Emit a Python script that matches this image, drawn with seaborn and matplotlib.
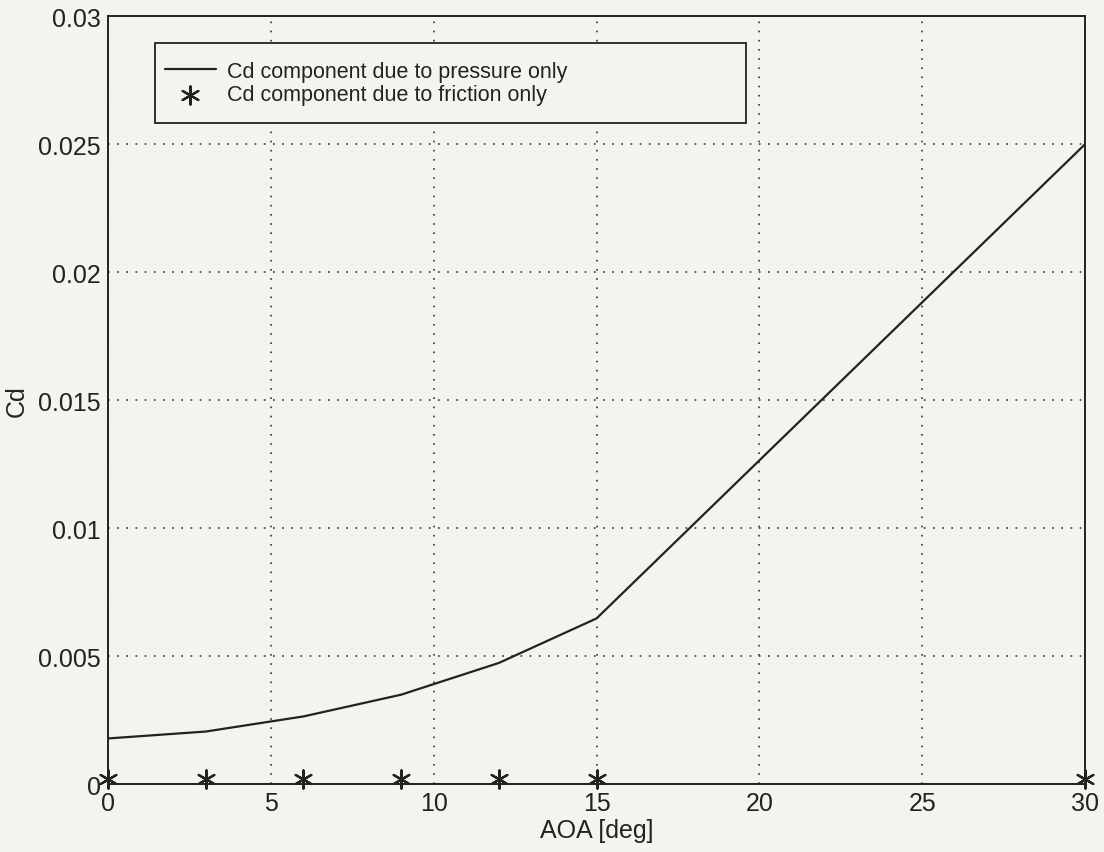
import matplotlib
matplotlib.use("Agg")
import matplotlib.pyplot as plt
from matplotlib.patches import Rectangle
import seaborn as sns
import pandas as pd

aoa = [0, 3, 6, 9, 12, 15, 30]
cd_pressure = [0.00178, 0.00205, 0.00264, 0.00349, 0.00473, 0.00647, 0.025]
cd_friction = [0.0002, 0.0002, 0.0002, 0.0002, 0.0002, 0.0002, 0.0002]
xticks = [0, 5, 10, 15, 20, 25, 30]
yticks = [0, 0.005, 0.01, 0.015, 0.02, 0.025, 0.03]
ytick_labels = ["0", "0.005", "0.01", "0.015", "0.02", "0.025", "0.03"]

sns.set_style("white")
plt.rcParams['font.family'] = ['Liberation Sans', 'DejaVu Sans']

df = pd.DataFrame({"aoa": aoa, "pressure": cd_pressure, "friction": cd_friction})

bg = "#f4f4ef"
ink = "#222222"
fig = plt.figure(figsize=(11.04, 8.53), dpi=100, facecolor=bg)
ax = fig.add_axes([0.0978, 0.0797, 0.8852, 0.9003])
ax.set_facecolor(bg)

sns.lineplot(data=df, x="aoa", y="pressure", ax=ax, color=ink, linewidth=1.6,
             label="Cd component due to pressure only")
sns.scatterplot(data=df, x="aoa", y="friction", ax=ax, color=ink, marker=(6, 2, 0),
                s=170, linewidth=1.6, label="Cd component due to friction only", zorder=5, clip_on=False)

ax.set_xlim(0, 30)
ax.set_ylim(0, 0.03)
ax.set_xticks(xticks)
ax.set_yticks(yticks)
ax.set_yticklabels(ytick_labels)
ax.tick_params(direction="in", length=8, width=1.2, labelsize=18, colors=ink, pad=5)
ax.grid(True, linestyle=(0, (1, 4.5)), color="#333333", linewidth=1.2)
for s in ax.spines.values():
    s.set_color(ink)
    s.set_linewidth(1.4)
ax.set_xlabel("AOA [deg]", fontsize=18, color=ink, labelpad=2)
ax.set_ylabel("Cd", fontsize=18, color=ink, labelpad=7)

# legend frame drawn as a box in axes coordinates
frame = Rectangle((0.048, 0.861), 0.605, 0.104, transform=ax.transAxes, facecolor=bg,
                  edgecolor=ink, linewidth=1.3, zorder=6)
ax.add_patch(frame)
leg = ax.legend(loc="upper left", bbox_to_anchor=(0.058, 0.942), fontsize=15.5, frameon=False,
                borderpad=0, handlelength=2.4, handletextpad=0.5, labelspacing=0.12, borderaxespad=0)
leg.set_zorder(7)
for t in leg.get_texts():
    t.set_color(ink)

fig.savefig("out.png", dpi=100, facecolor=bg)
